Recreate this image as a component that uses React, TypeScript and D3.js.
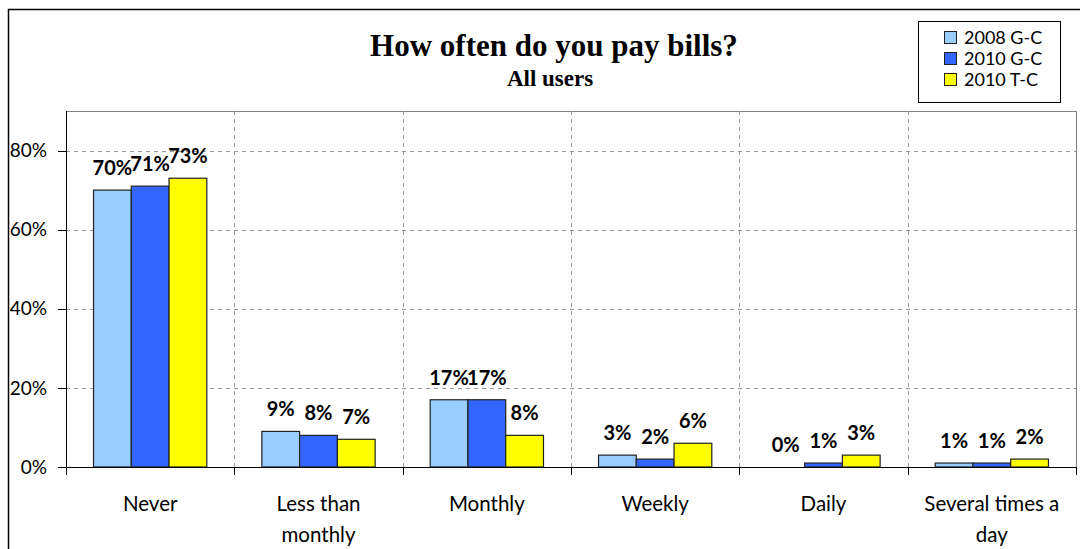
import React, { useEffect, useRef } from 'react';
import * as d3 from 'd3';

const categories = ['Never', 'Less than monthly', 'Monthly', 'Weekly', 'Daily', 'Several times a day'];
const categoryLines = [['Never'], ['Less than', 'monthly'], ['Monthly'], ['Weekly'], ['Daily'], ['Several times a', 'day']];
const seriesNames = ['2008 G-C', '2010 G-C', '2010 T-C'];
const values2008GC = [70, 9, 17, 3, 0, 1];
const values2010GC = [71, 8, 17, 2, 1, 1];
const values2010TC = [73, 7, 8, 6, 3, 2];
const seriesColors = ['#99CCFF', '#3366FF', '#FFFF00'];
const yTicks = [0, 20, 40, 60, 80];

const W = 1080;
const H = 549;

const App: React.FC = () => {
  const svgRef = useRef<SVGSVGElement>(null);

  useEffect(() => {
    document.body.style.margin = '0';
    if (!svgRef.current) return;
    const svg = d3.select(svgRef.current);
    svg.selectAll('*').remove();

    const font = 'Lato, "Open Sans", sans-serif';
    const serif = '"Liberation Serif", serif';
    const plot = { left: 66, right: 1076, top: 111, bottom: 467 };

    // outer chart frame
    svg.append('rect')
      .attr('x', 8.5).attr('y', 9.5)
      .attr('width', 1100).attr('height', 600)
      .attr('fill', '#fff').attr('stroke', '#000').attr('stroke-width', 1.5);

    const x0 = d3.scaleBand<string>().domain(categories).range([plot.left, plot.right]).padding(0);
    const step = x0.bandwidth();
    const gap = step * 0.327;
    const x1 = d3.scaleBand<string>().domain(seriesNames).range([gap / 2, step - gap / 2]).padding(0);
    const y = d3.scaleLinear().domain([0, 90]).range([plot.bottom, plot.top]);

    const g = svg.append('g');

    // plot area border (top/right)
    g.append('path')
      .attr('d', `M${plot.left},${plot.top + 0.5}H${plot.right + 0.5}V${plot.bottom}`)
      .attr('fill', 'none').attr('stroke', '#808080').attr('stroke-width', 1);

    // horizontal gridlines
    g.selectAll('line.hgrid')
      .data(yTicks.filter(t => t > 0))
      .enter().append('line')
      .attr('class', 'hgrid')
      .attr('x1', plot.left).attr('x2', plot.right)
      .attr('y1', d => Math.round(y(d)) + 0.5).attr('y2', d => Math.round(y(d)) + 0.5)
      .attr('stroke', '#999').attr('stroke-dasharray', '4,4');

    // vertical gridlines between categories
    const bounds = categories.slice(1).map(c => x0(c)!);
    g.selectAll('line.vgrid')
      .data(bounds)
      .enter().append('line')
      .attr('class', 'vgrid')
      .attr('x1', d => Math.round(d) + 0.5).attr('x2', d => Math.round(d) + 0.5)
      .attr('y1', plot.top).attr('y2', plot.bottom)
      .attr('stroke', '#999').attr('stroke-dasharray', '4,4');

    // bars + value labels
    const seriesValues = [values2008GC, values2010GC, values2010TC];
    seriesNames.forEach((s, si) => {
      const vals = seriesValues[si];
      g.selectAll(`rect.s${si}`)
        .data(categories)
        .enter().append('rect')
        .attr('class', `s${si}`)
        .attr('x', (c) => x0(c)! + x1(s)!)
        .attr('y', (c, i) => y(vals[i]))
        .attr('width', x1.bandwidth())
        .attr('height', (c, i) => plot.bottom - y(vals[i]))
        .attr('fill', seriesColors[si])
        .attr('stroke', '#222').attr('stroke-width', 1.2)
        .style('display', (c, i) => (vals[i] === 0 ? 'none' : null));

      g.selectAll(`text.l${si}`)
        .data(categories)
        .enter().append('text')
        .attr('class', `l${si}`)
        .attr('x', (c) => x0(c)! + x1(s)! + x1.bandwidth() / 2)
        .attr('y', (c, i) => y(vals[i]) - 15)
        .attr('text-anchor', 'middle')
        .attr('font-family', font).attr('font-weight', 'bold').attr('font-size', 20)
        .attr('fill', '#000')
        .text((c, i) => `${vals[i]}%`);
    });

    // y axis
    g.append('line')
      .attr('x1', plot.left + 0.5).attr('x2', plot.left + 0.5)
      .attr('y1', plot.top).attr('y2', plot.bottom + 8)
      .attr('stroke', '#000');
    g.selectAll('line.ytick')
      .data(yTicks)
      .enter().append('line')
      .attr('x1', plot.left - 8).attr('x2', plot.left)
      .attr('y1', d => Math.round(y(d)) + 0.5).attr('y2', d => Math.round(y(d)) + 0.5)
      .attr('stroke', '#000');
    g.selectAll('text.ylab')
      .data(yTicks)
      .enter().append('text')
      .attr('x', plot.left - 19)
      .attr('y', d => y(d))
      .attr('dy', '0.35em')
      .attr('text-anchor', 'end')
      .attr('font-family', font).attr('font-size', 19)
      .text(d => `${d}%`);

    // x axis
    g.append('line')
      .attr('x1', plot.left).attr('x2', plot.right + 1)
      .attr('y1', plot.bottom + 0.5).attr('y2', plot.bottom + 0.5)
      .attr('stroke', '#000');
    g.selectAll('line.xtick')
      .data([...categories.map(c => x0(c)!), plot.right])
      .enter().append('line')
      .attr('x1', d => Math.round(d) + 0.5).attr('x2', d => Math.round(d) + 0.5)
      .attr('y1', plot.bottom).attr('y2', plot.bottom + 8)
      .attr('stroke', '#000');
    const xl = g.selectAll('text.xlab')
      .data(categories)
      .enter().append('text')
      .attr('x', c => x0(c)! + step / 2)
      .attr('y', 511)
      .attr('text-anchor', 'middle')
      .attr('font-family', font).attr('font-size', 20.5);
    xl.each(function (c, i) {
      const t = d3.select(this);
      categoryLines[i].forEach((line, li) => {
        t.append('tspan')
          .attr('x', x0(c)! + step / 2)
          .attr('dy', li === 0 ? 0 : 31)
          .text(line);
      });
    });

    // title
    svg.append('text')
      .attr('x', 554).attr('y', 56)
      .attr('text-anchor', 'middle')
      .attr('font-family', serif).attr('font-weight', 'bold').attr('font-size', 31)
      .text('How often do you pay bills?');
    svg.append('text')
      .attr('x', 550).attr('y', 86)
      .attr('text-anchor', 'middle')
      .attr('font-family', serif).attr('font-weight', 'bold').attr('font-size', 23)
      .text('All users');

    // legend
    const lg = svg.append('g');
    lg.append('rect')
      .attr('x', 918.5).attr('y', 21.5)
      .attr('width', 142).attr('height', 81)
      .attr('fill', '#fff').attr('stroke', '#000');
    const ly = d3.scalePoint<string>().domain(seriesNames).range([38, 80]);
    seriesNames.forEach((s, si) => {
      lg.append('rect')
        .attr('x', 944.5).attr('y', ly(s)! - 6.5)
        .attr('width', 12).attr('height', 12)
        .attr('fill', seriesColors[si]).attr('stroke', '#222');
      lg.append('text')
        .attr('x', 964).attr('y', ly(s)!)
        .attr('dy', '0.35em')
        .attr('font-family', font).attr('font-size', 18)
        .text(s);
    });
  }, []);

  return <svg ref={svgRef} width={W} height={H} style={{ display: 'block' }} />;
};

export default App;
